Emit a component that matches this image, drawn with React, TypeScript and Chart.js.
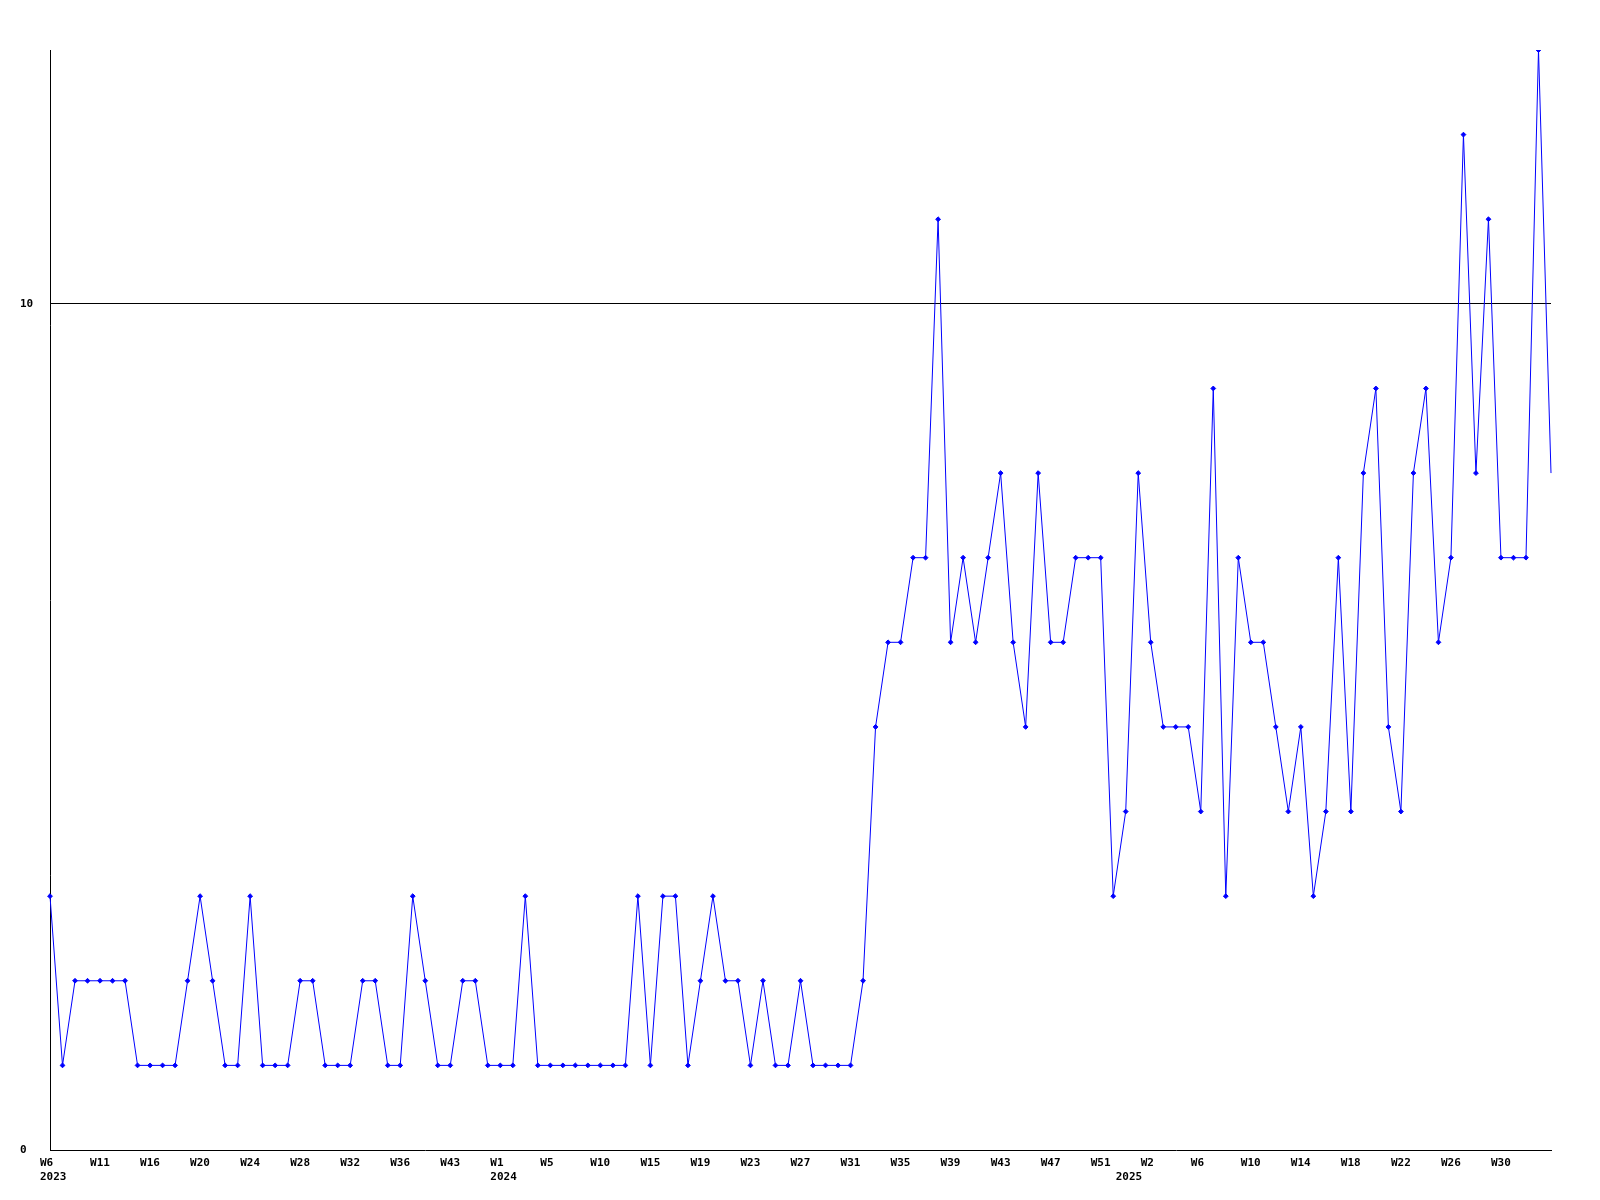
import React, { useEffect, useRef } from "react";
import { Chart, registerables } from "chart.js";

Chart.register(...registerables);

// Category (week) labels, one per data point
const weeks: string[] = [
  "W6", "W7", "W8", "W10",
  "W11", "W12", "W13", "W15",
  "W16", "W17", "W18", "W19",
  "W20", "W21", "W22", "W23",
  "W24", "W25", "W26", "W27",
  "W28", "W29", "W30", "W31",
  "W32", "W33", "W34", "W35",
  "W36", "W38", "W40", "W41",
  "W43", "W45", "W48", "W50",
  "W1", "W2", "W3", "W4",
  "W5", "W6", "W8", "W9",
  "W10", "W11", "W13", "W14",
  "W15", "W16", "W17", "W18",
  "W19", "W20", "W21", "W22",
  "W23", "W24", "W25", "W26",
  "W27", "W28", "W29", "W30",
  "W31", "W32", "W33", "W34",
  "W35", "W36", "W37", "W38",
  "W39", "W40", "W41", "W42",
  "W43", "W44", "W45", "W46",
  "W47", "W48", "W49", "W50",
  "W51", "W52", "W0", "W1",
  "W2", "W3", "W4", "W5",
  "W6", "W7", "W8", "W9",
  "W10", "W11", "W12", "W13",
  "W14", "W15", "W16", "W17",
  "W18", "W19", "W20", "W21",
  "W22", "W23", "W24", "W25",
  "W26", "W27", "W28", "W29",
  "W30", "W31", "W32", "W33",
  "W34",
];

// Year shown (second row) under the first week of each year
const yearMarks: Record<number, string> = { 0: "2023", 36: "2024", 86: "2025" };

// Weekly counts
const counts: number[] = [
  3, 1, 2, 2, 2, 2, 2, 1, 1, 1,
  1, 2, 3, 2, 1, 1, 3, 1, 1, 1,
  2, 2, 1, 1, 1, 2, 2, 1, 1, 3,
  2, 1, 1, 2, 2, 1, 1, 1, 3, 1,
  1, 1, 1, 1, 1, 1, 1, 3, 1, 3,
  3, 1, 2, 3, 2, 2, 1, 2, 1, 1,
  2, 1, 1, 1, 1, 2, 5, 6, 6, 7,
  7, 11, 6, 7, 6, 7, 8, 6, 5, 8,
  6, 6, 7, 7, 7, 3, 4, 8, 6, 5,
  5, 5, 4, 9, 3, 7, 6, 6, 5, 4,
  5, 3, 4, 7, 4, 8, 9, 5, 4, 8,
  9, 6, 7, 12, 8, 11, 7, 7, 7, 13, 8,
];

const yTicks: number[] = [0, 10];
const yMax = 13;
const labelEvery = 4;

export default function App() {
  const ref = useRef<HTMLCanvasElement | null>(null);

  useEffect(() => {
    if (!ref.current) return;
    const last = counts.length - 1;
    const font = { family: "'DejaVu Sans Mono', monospace", size: 11, weight: "bold" as const, lineHeight: 1.3 };
    const chart = new Chart(ref.current, {
      type: "line",
      data: {
        labels: weeks,
        datasets: [
          {
            data: counts,
            borderColor: "#0000ff",
            backgroundColor: "#0000ff",
            borderWidth: 1,
            tension: 0,
            fill: false,
            pointStyle: "rectRot",
            pointRadius: (ctx: any) => (ctx.dataIndex === last ? 0 : 2.4),
            pointBorderWidth: 1,
            pointBorderColor: "#0000ff",
            pointBackgroundColor: "#0000ff",
          },
        ],
      },
      options: {
        responsive: false,
        animation: false,
        layout: { padding: { left: 20, top: 50, right: 49, bottom: 0 } },
        plugins: { legend: { display: false }, title: { display: false }, tooltip: { enabled: false } },
        scales: {
          x: {
            type: "category",
            offset: false,
            grid: { display: false, drawTicks: false },
            border: { display: true, color: "#000", width: 1 },
            afterFit: (s: any) => { s.height = 50; },
            ticks: {
              autoSkip: false,
              maxRotation: 0,
              minRotation: 0,
              align: "start",
              labelOffset: -10,
              padding: 6,
              color: "#000",
              font,
              callback: (_v: any, i: number) => {
                const wk = i % labelEvery === 0 && i < last ? weeks[i] : "";
                const yr = yearMarks[i];
                if (yr) return [wk, yr];
                return wk;
              },
            },
          },
          y: {
            min: 0,
            max: yMax,
            afterBuildTicks: (axis: any) => { axis.ticks = yTicks.map((v) => ({ value: v })); },
            afterFit: (s: any) => { s.width = 30; },
            grid: {
              drawTicks: false,
              color: (ctx: any) => (ctx.tick && ctx.tick.value === 10 ? "#000" : "rgba(0,0,0,0)"),
              lineWidth: 1,
            },
            border: { display: true, color: "#000", width: 1 },
            ticks: {
              crossAlign: "far",
              padding: 0,
              color: "#000",
              font,
              callback: (v: any) => String(v),
            },
          },
        },
      },
    } as any);
    return () => chart.destroy();
  }, []);

  return (
    <canvas
      ref={ref}
      width={1600}
      height={1200}
      style={{ position: "absolute", left: 0, top: 0, width: 1600, height: 1200, background: "#fff" }}
    />
  );
}
